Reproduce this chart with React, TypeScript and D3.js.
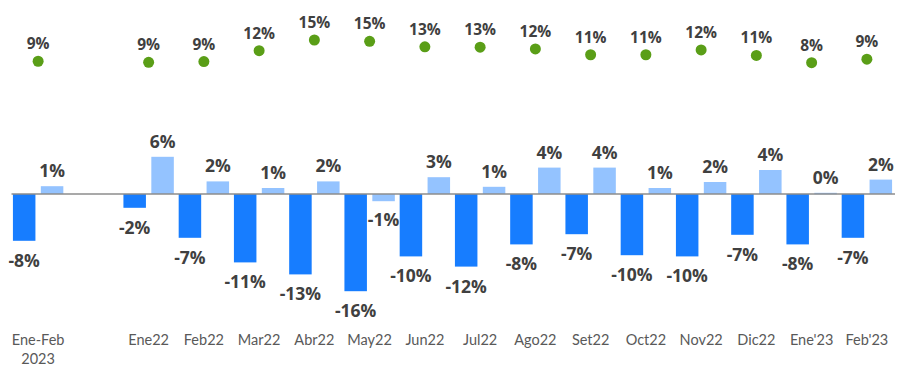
import React from 'react';
import * as d3 from 'd3';

const categories = ['Ene-Feb\n2023', '', 'Ene22', 'Feb22', 'Mar22', 'Abr22', 'May22', 'Jun22', 'Jul22', 'Ago22', 'Set22', 'Oct22', 'Nov22', 'Dic22', "Ene'23", "Feb'23"];
const darkValues = [-7.8, null, -2.3, -7.3, -11.4, -13.4, -16.2, -10.4, -12.1, -8.4, -6.7, -10.2, -10.4, -6.8, -8.4, -7.3];
const lightValues = [1.3, null, 6.2, 2.1, 1.0, 2.1, -1.2, 2.8, 1.2, 4.4, 4.4, 1.0, 2.0, 4.0, 0.2, 2.4];
const dotValues = [8.8, null, 8.5, 8.7, 11.9, 15.0, 14.6, 13.0, 12.9, 12.4, 10.7, 10.7, 12.1, 10.5, 8.4, 9.4];

const W = 907;
const H = 367;
const VALUE_FONT = '"Open Sans", sans-serif';
const AXIS_FONT = 'Lato, "Open Sans", sans-serif';
const TEXT = '#404040';

export default function App() {
  const x = d3.scaleBand<number>()
    .domain(d3.range(categories.length))
    .range([10.5, 894.5])
    .paddingInner(0)
    .paddingOuter(0);
  const step = x.bandwidth();
  const barW = 22.5;
  const gap = 2.7;

  // bars: 6px per percentage point, zero at 194
  const y = d3.scaleLinear().domain([0, -16]).range([194, 290]);
  // dots on their own scale
  const yDot = d3.scaleLinear().domain([8, 15]).range([64, 40]);

  const fmt = (v: number) => `${Math.round(v)}%`;
  const cx = (i: number) => (x(i) as number) + step / 2;

  return (
    <div style={{ position: 'fixed', left: 0, top: 0 }}>
      <svg width={W} height={H} style={{ display: 'block', background: '#fff' }}>
        {categories.map((c, i) => {
          const d = darkValues[i];
          const l = lightValues[i];
          const p = dotValues[i];
          const center = cx(i);
          return (
            <g key={i}>
              {d != null && (
                <g>
                  <rect x={center - gap - barW} width={barW}
                    y={Math.min(y(0), y(d))} height={Math.abs(y(d) - y(0))}
                    fill="#177DFF" />
                  <text x={center - gap - barW / 2} y={d < 0 ? y(d) + 19 : y(d) - 16}
                    textAnchor="middle" dominantBaseline="central" fontFamily={VALUE_FONT}
                    fontSize={17.5} fontWeight={700} fill={TEXT}>{fmt(d)}</text>
                </g>
              )}
              {l != null && (
                <g>
                  <rect x={center + gap} width={barW}
                    y={Math.min(y(0), y(l))} height={Math.max(1.5, Math.abs(y(l) - y(0)))}
                    fill="#94C3FF" />
                  <text x={center + gap + barW / 2} y={l < 0 ? y(l) + 18 : y(l) - 16}
                    textAnchor="middle" dominantBaseline="central" fontFamily={VALUE_FONT}
                    fontSize={17.5} fontWeight={700} fill={TEXT}>{fmt(l)}</text>
                </g>
              )}
              {p != null && (
                <g>
                  <circle cx={center} cy={yDot(p)} r={5.5} fill="#5A9E17" />
                  <text x={center} y={yDot(p) - 18} textAnchor="middle" dominantBaseline="central"
                    fontFamily={VALUE_FONT} fontSize={15.5} fontWeight={700} fill={TEXT}>{fmt(p)}</text>
                </g>
              )}
              {c.split('\n').map((line, k) => (
                <text key={k} x={center} y={339 + k * 19} textAnchor="middle" dominantBaseline="central"
                  fontFamily={AXIS_FONT} fontSize={14.5} fill="#595959">{line}</text>
              ))}
            </g>
          );
        })}
        <line x1={11.5} x2={895} y1={y(0)} y2={y(0)} stroke="#8C8C8C" strokeWidth={1.5} />
      </svg>
    </div>
  );
}
